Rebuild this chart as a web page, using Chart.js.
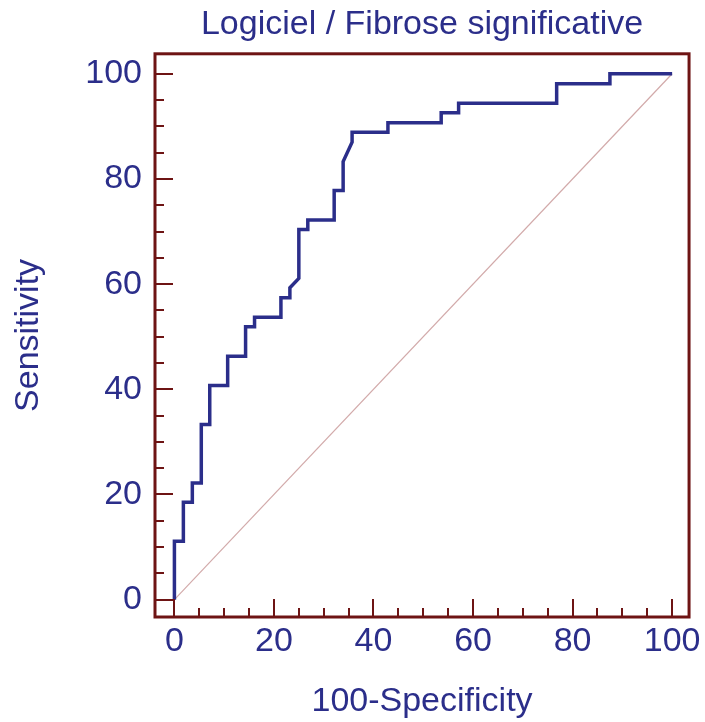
<!DOCTYPE html>
<html>
<head>
<meta charset="utf-8">
<title>Logiciel / Fibrose significative</title>
<script src="https://cdn.jsdelivr.net/npm/chart.js@4.4.1/dist/chart.umd.min.js"></script>
<style>
  html, body { margin: 0; padding: 0; background: #fff; }
  #wrap { width: 705px; height: 722px; }
</style>
</head>
<body>
<div id="wrap"><canvas id="roc"></canvas></div>
<script>
// ========== data ==========
// ROC curve vertices (100-Specificity, Sensitivity)
const fpr = [0, 0, 1.8, 1.8, 3.6, 3.6, 5.4, 5.4, 7.1, 7.1, 10.7, 10.7, 14.3, 14.3,
  16.1, 16.1, 21.4, 21.4, 23.2, 23.2, 25.0, 25.0, 26.8, 26.8, 32.1, 32.1, 33.9, 33.9,
  35.7, 35.7, 42.9, 42.9, 53.6, 53.6, 57.1, 57.1, 76.8, 76.8, 87.5, 87.5, 100];
const tpr = [0, 11.1, 11.1, 18.5, 18.5, 22.2, 22.2, 33.3, 33.3, 40.7, 40.7, 46.3, 46.3, 51.9,
  51.9, 53.7, 53.7, 57.4, 57.4, 59.3, 61.1, 70.4, 70.4, 72.2, 72.2, 77.8, 77.8, 83.3,
  87.0, 88.9, 88.9, 90.7, 90.7, 92.6, 92.6, 94.4, 94.4, 98.1, 98.1, 100, 100];

// reference diagonal
const diagX = [0, 100];
const diagY = [0, 100];

// tick marks
const majorTicks = [0, 20, 40, 60, 80, 100];
const minorTicks = [5, 10, 15, 25, 30, 35, 45, 50, 55, 65, 70, 75, 85, 90, 95];

// ========== style ==========
const NAVY = "#2b2e8a";
const FRAME = "#6e1414";
const FONT = "'Liberation Sans', Arial, sans-serif";
const FONT_SIZE = 34;

// frame + inward ticks like the original
const framePlugin = {
  id: "frame",
  afterDatasetsDraw(chart) {
    const { ctx, chartArea: a, scales } = chart;
    ctx.save();
    ctx.strokeStyle = FRAME;
    ctx.lineWidth = 2;
    ctx.beginPath();
    const tick = (v, len) => {
      const px = Math.round(scales.x.getPixelForValue(v));
      ctx.moveTo(px, a.bottom);
      ctx.lineTo(px, a.bottom - len);
      const py = Math.round(scales.y.getPixelForValue(v));
      ctx.moveTo(a.left, py);
      ctx.lineTo(a.left + len, py);
    };
    majorTicks.forEach((v) => tick(v, 18));
    minorTicks.forEach((v) => tick(v, 9));
    ctx.stroke();
    ctx.lineWidth = 3;
    ctx.strokeRect(a.left, a.top, a.right - a.left, a.bottom - a.top);
    ctx.restore();
  },
};

const toPoints = (xs, ys) => xs.map((x, i) => ({ x, y: ys[i] }));

new Chart(document.getElementById("roc"), {
  type: "scatter",
  data: {
    datasets: [
      {
        data: toPoints(fpr, tpr),
        showLine: true,
        borderColor: NAVY,
        borderWidth: 3.5,
        borderJoinStyle: "miter",
        pointRadius: 0,
        tension: 0,
      },
      {
        data: toPoints(diagX, diagY),
        showLine: true,
        borderColor: "#d2aaaa",
        borderWidth: 1.2,
        pointRadius: 0,
      },
    ],
  },
  options: {
    responsive: true,
    maintainAspectRatio: false,
    animation: false,
    layout: { padding: { left: 0, right: 13, top: 0, bottom: 0 } },
    plugins: {
      legend: { display: false },
      tooltip: { enabled: false },
      title: {
        display: true,
        fullSize: false,
        text: "Logiciel / Fibrose significative",
        color: NAVY,
        font: { family: FONT, size: FONT_SIZE, weight: "normal" },
        padding: { top: 4, bottom: 9 },
      },
    },
    scales: {
      x: {
        type: "linear",
        min: -3.9,
        max: 103.4,
        grid: { display: false, drawTicks: false },
        border: { display: false },
        afterBuildTicks: (s) => { s.ticks = majorTicks.map((v) => ({ value: v })); },
        afterFit: (s) => { s.height = 105; },
        ticks: {
          color: NAVY,
          padding: 4,
          maxRotation: 0,
          font: { family: FONT, size: FONT_SIZE },
        },
        title: {
          display: true,
          text: "100-Specificity",
          color: NAVY,
          font: { family: FONT, size: FONT_SIZE },
          padding: { top: 0, bottom: 0 },
        },
      },
      y: {
        type: "linear",
        min: -3.3,
        max: 103.8,
        grid: { display: false, drawTicks: false },
        border: { display: false },
        afterBuildTicks: (s) => { s.ticks = majorTicks.map((v) => ({ value: v })); },
        afterFit: (s) => { s.width = 155; },
        ticks: {
          color: NAVY,
          padding: 13,
          font: { family: FONT, size: FONT_SIZE },
        },
        title: {
          display: true,
          text: "Sensitivity",
          color: NAVY,
          font: { family: FONT, size: FONT_SIZE },
          padding: { top: 8, bottom: 0 },
        },
      },
    },
  },
  plugins: [framePlugin],
});
</script>
</body>
</html>
